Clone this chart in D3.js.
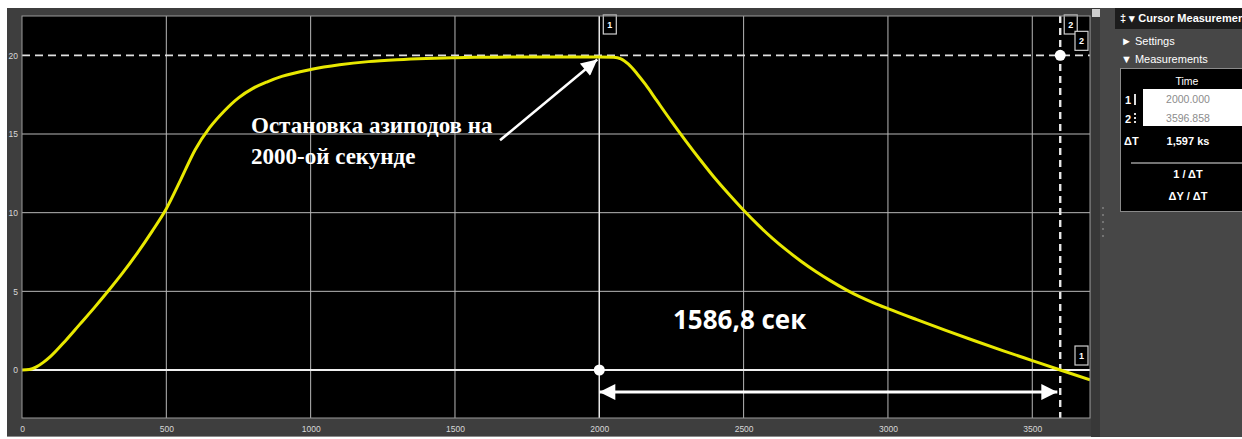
<!DOCTYPE html>
<html>
<head>
<meta charset="utf-8">
<script src="https://cdn.jsdelivr.net/npm/d3@7"></script>
<style>
  html, body { margin: 0; padding: 0; background: #ffffff; }
  svg { display: block; }
</style>
</head>
<body>
<svg id="chart" width="1242" height="439"></svg>
<script>
// Vessel coast-down record: time (s) and speed
const timeSec = [0, 25, 50, 75, 100, 150, 200, 250, 300, 350, 400, 450, 500, 550, 600, 650, 700, 750, 800, 850, 900, 1000,
  1100, 1200, 1300, 1400, 1500, 1600, 1700, 1800, 1900, 2000, 2050, 2075, 2100, 2130, 2160, 2200, 2250, 2300,
  2350, 2400, 2450, 2500, 2550, 2600, 2650, 2700, 2750, 2800, 2857, 2900, 2950, 3000, 3100, 3200, 3300, 3400, 3500, 3597, 3700];
const speed = [0, 0.03, 0.2, 0.5, 0.88, 1.85, 2.9, 3.95, 5.05, 6.2, 7.45, 8.8, 10.25, 12.1, 14.0, 15.4, 16.45, 17.3, 17.9, 18.32, 18.66, 19.1,
  19.4, 19.6, 19.72, 19.8, 19.85, 19.88, 19.9, 19.9, 19.9, 19.9, 19.88, 19.78, 19.45, 18.85, 18.15, 17.1, 15.8, 14.55,
  13.35, 12.2, 11.15, 10.15, 9.22, 8.37, 7.6, 6.9, 6.26, 5.68, 5.08, 4.68, 4.27, 3.9, 3.2, 2.52, 1.86, 1.22, 0.6, 0.0, -0.62];

// Axis ticks
const xTicks = [0, 500, 1000, 1500, 2000, 2500, 3000, 3500];
const yTicks = [0, 5, 10, 15, 20];

// Cursors: 1 = solid (time 2000 s, level 0), 2 = dashed (time 3596.858 s, level 20)
const cursorTime = [2000.000, 3596.858];
const cursorLevel = [0, 20];

// Annotations
const stopNote = ["Остановка азиподов на", "2000-ой секунде"];
const stopArrowFrom = [1656, 14.6];
const coastDuration = 1586.8;
const coastArrowLevel = -1.4;

const svg = d3.select("#chart");
const W = 1242, H = 439;
const plot = { left: 22, right: 1090, top: 16, bottom: 418 };

const x = d3.scaleLinear().domain([0, 3700]).range([plot.left, plot.right]);
const y = d3.scaleLinear().domain([-3.05, 22.5]).range([plot.bottom, plot.top]);

// Window frame
svg.append("rect").attr("x", 0).attr("y", 0).attr("width", W).attr("height", H).attr("fill", "#ffffff");
svg.append("rect").attr("x", 7).attr("y", 8).attr("width", W - 7).attr("height", 429).attr("fill", "#3e3e3e");
svg.append("line").attr("x1", 7).attr("x2", W).attr("y1", 436.5).attr("y2", 436.5).attr("stroke", "#8a8a8a").attr("stroke-width", 1);

// Plot area
svg.append("rect")
  .attr("x", plot.left).attr("y", plot.top)
  .attr("width", plot.right - plot.left).attr("height", plot.bottom - plot.top)
  .attr("fill", "#000000");

const defs = svg.append("defs");
defs.append("clipPath").attr("id", "plotClip").append("rect")
  .attr("x", plot.left).attr("y", plot.top)
  .attr("width", plot.right - plot.left).attr("height", plot.bottom - plot.top);

const g = svg.append("g").attr("clip-path", "url(#plotClip)");

// Grid
g.selectAll(".vgrid").data(xTicks.filter(d => d > 0)).join("line")
  .attr("x1", d => x(d)).attr("x2", d => x(d))
  .attr("y1", plot.top).attr("y2", plot.bottom)
  .attr("stroke", "#b8b8b8").attr("stroke-width", 1);
g.selectAll(".hgrid").data(yTicks.filter(d => d > 0 && d < 20)).join("line")
  .attr("x1", plot.left).attr("x2", plot.right)
  .attr("y1", d => y(d)).attr("y2", d => y(d))
  .attr("stroke", "#b8b8b8").attr("stroke-width", 1);

// Cursor 1 (solid)
g.append("line")
  .attr("x1", x(cursorTime[0])).attr("x2", x(cursorTime[0]))
  .attr("y1", plot.top).attr("y2", plot.bottom)
  .attr("stroke", "#e8e8e8").attr("stroke-width", 1.4);
g.append("line")
  .attr("x1", plot.left).attr("x2", plot.right)
  .attr("y1", y(cursorLevel[0])).attr("y2", y(cursorLevel[0]))
  .attr("stroke", "#f0f0f0").attr("stroke-width", 2.2);

// Cursor 2 (dashed)
g.append("line")
  .attr("x1", plot.left).attr("x2", plot.right)
  .attr("y1", y(cursorLevel[1])).attr("y2", y(cursorLevel[1]))
  .attr("stroke", "#e0e0e0").attr("stroke-width", 1.6)
  .attr("stroke-dasharray", "8,5");
g.append("line")
  .attr("x1", x(cursorTime[1])).attr("x2", x(cursorTime[1]))
  .attr("y1", plot.top).attr("y2", plot.bottom)
  .attr("stroke", "#e8e8e8").attr("stroke-width", 2.4)
  .attr("stroke-dasharray", "7,5");

// Speed curve
const line = d3.line().x((d, i) => x(timeSec[i])).y(d => y(d)).curve(d3.curveMonotoneX);
g.append("path").datum(speed)
  .attr("d", line)
  .attr("fill", "none")
  .attr("stroke", "#e8e800")
  .attr("stroke-width", 3);

// Cursor markers
svg.selectAll(".cdot").data([0, 1]).join("circle")
  .attr("cx", i => x(cursorTime[i])).attr("cy", i => y(cursorLevel[i]))
  .attr("r", 5.5).attr("fill", "#ffffff");

// Cursor tags
function tag(cx, cy, label) {
  const tg = svg.append("g");
  tg.append("rect").attr("x", cx).attr("y", cy).attr("width", 13).attr("height", 19)
    .attr("fill", "#000").attr("stroke", "#cfcfcf").attr("stroke-width", 1.2);
  tg.append("text").attr("x", cx + 6.5).attr("y", cy + 13).attr("text-anchor", "middle")
    .attr("font-family", "Liberation Sans, Arial, sans-serif").attr("font-size", 9).attr("font-weight", "bold")
    .attr("fill", "#ffffff").text(label);
}
tag(x(cursorTime[0]) + 4, plot.top - 1, "1");
tag(x(cursorTime[1]) + 4, plot.top - 1, "2");
tag(plot.right - 15, y(cursorLevel[1]) - 24, "2");
tag(plot.right - 15, y(cursorLevel[0]) - 24, "1");

// Plot border
svg.append("rect")
  .attr("x", plot.left).attr("y", plot.top)
  .attr("width", plot.right - plot.left).attr("height", plot.bottom - plot.top)
  .attr("fill", "none").attr("stroke", "#9a9a9a").attr("stroke-width", 1);

// Axes
const xAxis = d3.axisBottom(x).tickValues(xTicks).tickFormat(d3.format("d")).tickSize(0).tickPadding(0);
const xa = svg.append("g").attr("transform", `translate(0,${plot.bottom + 6})`).call(xAxis);
const yAxis = d3.axisLeft(y).tickValues(yTicks).tickFormat(d3.format("d")).tickSize(0).tickPadding(0);
const ya = svg.append("g").attr("transform", `translate(${plot.left - 4},0)`).call(yAxis);
[xa, ya].forEach(a => {
  a.select(".domain").remove();
  a.selectAll("text").attr("fill", "#d8d8d8").attr("font-size", 8.5)
    .attr("font-family", "Liberation Sans, Arial, sans-serif");
});
xa.selectAll("text").attr("dy", "0.9em");

// Arrow heads
defs.append("marker").attr("id", "headEnd")
  .attr("viewBox", "0 0 10 10").attr("refX", 10).attr("refY", 5)
  .attr("markerUnits", "userSpaceOnUse").attr("markerWidth", 20).attr("markerHeight", 16)
  .attr("orient", "auto")
  .append("path").attr("d", "M0,0 L10,5 L0,10 Z").attr("fill", "#ffffff");
defs.append("marker").attr("id", "headStart")
  .attr("viewBox", "0 0 10 10").attr("refX", 0).attr("refY", 5)
  .attr("markerUnits", "userSpaceOnUse").attr("markerWidth", 20).attr("markerHeight", 16)
  .attr("orient", "auto")
  .append("path").attr("d", "M10,0 L0,5 L10,10 Z").attr("fill", "#ffffff");
defs.append("marker").attr("id", "headDiag")
  .attr("viewBox", "0 0 10 10").attr("refX", 10).attr("refY", 5)
  .attr("markerUnits", "userSpaceOnUse").attr("markerWidth", 22).attr("markerHeight", 16)
  .attr("orient", "auto")
  .append("path").attr("d", "M0,0 L10,5 L0,10 Z").attr("fill", "#ffffff");

// Arrow to the stop moment
svg.append("line")
  .attr("x1", x(stopArrowFrom[0])).attr("y1", y(stopArrowFrom[1]))
  .attr("x2", x(cursorTime[0]) - 2).attr("y2", y(19.8) + 1)
  .attr("stroke", "#ffffff").attr("stroke-width", 2.6)
  .attr("marker-end", "url(#headDiag)");

// Coast-down duration arrow
svg.append("line")
  .attr("x1", x(cursorTime[0])).attr("y1", y(coastArrowLevel))
  .attr("x2", x(cursorTime[0] + coastDuration)).attr("y2", y(coastArrowLevel))
  .attr("stroke", "#ffffff").attr("stroke-width", 3)
  .attr("marker-start", "url(#headStart)")
  .attr("marker-end", "url(#headEnd)");

// Annotation texts
const note = svg.append("text")
  .attr("font-family", "Liberation Serif, Times New Roman, serif")
  .attr("font-weight", "bold").attr("font-size", 23)
  .attr("fill", "#ffffff");
stopNote.forEach((s, i) => {
  note.append("tspan").attr("x", 251).attr("y", 133 + i * 31).text(s);
});
svg.append("text")
  .attr("x", 673).attr("y", 329)
  .attr("font-family", "Open Sans, sans-serif").attr("font-weight", "bold")
  .attr("font-size", 26).attr("fill", "#ffffff")
  .text(String(coastDuration).replace(".", ",") + " сек");

// Side panel: cursor measurements
const px = 1100;
svg.append("rect").attr("x", 1091).attr("y", 8).attr("width", 9).attr("height", 429).attr("fill", "#383838");
svg.append("rect").attr("x", 1092).attr("y", 9).attr("width", 9).attr("height", 8).attr("fill", "#cfcfcf");
svg.append("rect").attr("x", px).attr("y", 8).attr("width", W - px).attr("height", 429).attr("fill", "#474747");
svg.selectAll(".grip").data([0, 1, 2, 3, 4]).join("circle")
  .attr("cx", 1103).attr("cy", d => 208 + d * 7).attr("r", 0.9).attr("fill", "#8a8a8a");
svg.append("rect").attr("x", 1115).attr("y", 8).attr("width", W - 1115).attr("height", 21).attr("fill", "#1c1c1c");

const sans = "Liberation Sans, Arial, sans-serif";
svg.append("text").attr("x", 1120).attr("y", 22)
  .attr("font-family", sans).attr("font-size", 11).attr("font-weight", "bold").attr("fill", "#ffffff")
  .text("‡ ▾ Cursor Measurements");
svg.append("text").attr("x", 1121).attr("y", 45)
  .attr("font-family", sans).attr("font-size", 11).attr("fill", "#ffffff")
  .text("► Settings");
svg.append("text").attr("x", 1121).attr("y", 63)
  .attr("font-family", sans).attr("font-size", 11).attr("fill", "#ffffff")
  .text("▼ Measurements");

svg.append("rect").attr("x", 1120.5).attr("y", 68.5).attr("width", 130).attr("height", 143)
  .attr("fill", "#000000").attr("stroke", "#8a8a8a").attr("stroke-width", 1);
svg.append("text").attr("x", 1187).attr("y", 85).attr("text-anchor", "middle")
  .attr("font-family", sans).attr("font-size", 10.5).attr("fill", "#ffffff").text("Time");
svg.append("rect").attr("x", 1143).attr("y", 89).attr("width", 110).attr("height", 37).attr("fill", "#ffffff");

svg.selectAll(".ctime").data(cursorTime).join("text")
  .attr("x", 1188).attr("y", (d, i) => 103 + i * 19).attr("text-anchor", "middle")
  .attr("font-family", sans).attr("font-size", 10.5).attr("fill", "#8c8c8c")
  .text(d => d.toFixed(3));
svg.selectAll(".cidx").data(cursorTime).join("text")
  .attr("x", 1125).attr("y", (d, i) => 104 + i * 19)
  .attr("font-family", sans).attr("font-size", 11).attr("font-weight", "bold").attr("fill", "#ffffff")
  .text((d, i) => String(i + 1));
svg.append("line").attr("x1", 1135).attr("x2", 1135).attr("y1", 94).attr("y2", 105)
  .attr("stroke", "#dddddd").attr("stroke-width", 2);
svg.append("line").attr("x1", 1135).attr("x2", 1135).attr("y1", 113).attr("y2", 124)
  .attr("stroke", "#dddddd").attr("stroke-width", 2).attr("stroke-dasharray", "2,2");

const deltaT = cursorTime[1] - cursorTime[0];
svg.append("text").attr("x", 1124).attr("y", 145)
  .attr("font-family", sans).attr("font-size", 11).attr("font-weight", "bold").attr("fill", "#ffffff").text("ΔT");
svg.append("text").attr("x", 1188).attr("y", 145).attr("text-anchor", "middle")
  .attr("font-family", sans).attr("font-size", 11).attr("font-weight", "bold").attr("fill", "#ffffff")
  .text((deltaT / 1000).toFixed(3).replace(".", ",") + " ks");
svg.append("line").attr("x1", 1131).attr("x2", W).attr("y1", 163).attr("y2", 163)
  .attr("stroke", "#9a9a9a").attr("stroke-width", 1.5);
svg.append("text").attr("x", 1188).attr("y", 178).attr("text-anchor", "middle")
  .attr("font-family", sans).attr("font-size", 11).attr("font-weight", "bold").attr("fill", "#ffffff").text("1 / ΔT");
svg.append("text").attr("x", 1188).attr("y", 200).attr("text-anchor", "middle")
  .attr("font-family", sans).attr("font-size", 11).attr("font-weight", "bold").attr("fill", "#ffffff").text("ΔY / ΔT");
</script>
</body>
</html>
